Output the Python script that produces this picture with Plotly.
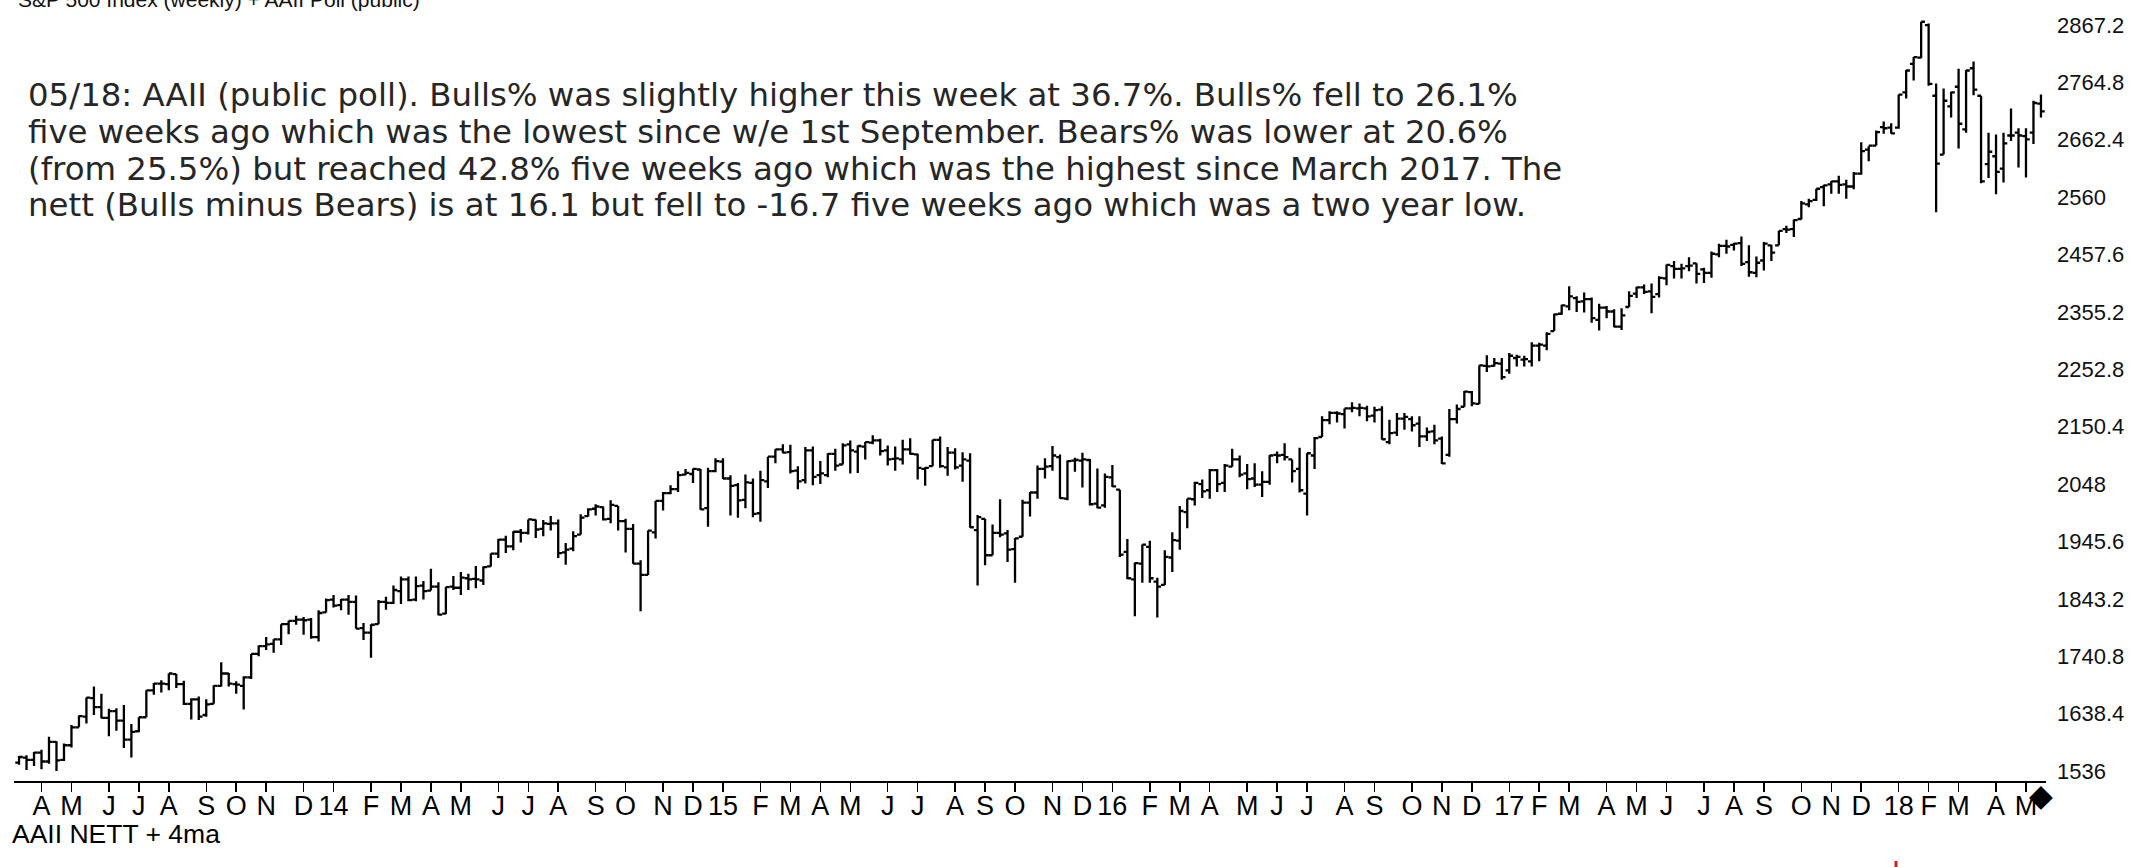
import pandas as pd
import plotly.graph_objects as go

# ---------------- data (weekly S&P 500 bars) ----------------
first_week = "2013-03-11"   # week of the first bar (bars plotted at week start)

opens = [
1551,1560,1556,1569,1553,1588,1556,1582,1614,1633,1666,1650,1631,1643,1626,1592,1607,1632,1680,1692,
1691,1709,1691,1656,1664,1636,1656,1688,1710,1691,1688,1703,1745,1759,1763,1771,1798,1804,1806,1806,
1775,1819,1842,1832,1842,1838,1791,1783,1798,1838,1836,1857,1878,1842,1867,1858,1865,1817,1865,1863,
1880,1879,1876,1901,1924,1949,1937,1963,1961,1984,1968,1977,1978,1926,1933,1958,1991,2004,2007,1986,
2009,1982,1968,1906,1886,1962,2018,2032,2039,2065,2066,2074,2005,2071,2088,2058,2046,2020,2050,1996,
2053,2097,2110,2105,2072,2055,2108,2064,2064,2102,2083,2119,2106,2115,2122,2126,2108,2093,2092,2110,
2101,2075,2080,2127,2078,2104,2081,2090,1966,1986,1921,1961,1960,1932,1954,2015,2033,2075,2080,2096,
2022,2090,2090,2091,2013,2010,2060,2038,1927,1878,1906,1936,1874,1868,1917,1947,1998,2021,2048,2037,
2073,2050,2079,2092,2067,2058,2047,2052,2100,2100,2092,2075,2031,2099,2132,2162,2175,2173,2183,2183,
2183,2170,2181,2123,2140,2165,2164,2156,2133,2142,2129,2100,2164,2186,2212,2191,2259,2259,2263,2251,
2273,2270,2267,2295,2295,2321,2352,2365,2380,2374,2378,2341,2363,2356,2329,2364,2388,2399,2392,2387,
2415,2437,2432,2437,2442,2431,2425,2458,2473,2475,2478,2444,2425,2447,2474,2474,2503,2503,2521,2547,
2555,2578,2583,2588,2583,2579,2602,2645,2652,2685,2684,2684,2747,2798,2809,2867,2741,2636,2722,2757,
2681,2790,2741,2619,2633,2611,2670,2675,2669,2675,2727]

highs = [
1563,1564,1570,1574,1597,1589,1585,1618,1635,1667,1687,1674,1647,1648,1654,1620,1632,1680,1693,1698,
1710,1709,1697,1666,1669,1664,1689,1730,1711,1696,1705,1745,1760,1775,1771,1798,1804,1813,1811,1809,
1823,1844,1850,1843,1850,1849,1800,1798,1841,1847,1867,1883,1883,1883,1875,1897,1873,1865,1884,1891,
1888,1902,1901,1924,1950,1956,1964,1968,1985,1985,1984,1991,1985,1943,1964,1994,2005,2012,2008,2019,
2009,1986,1977,1912,1965,2018,2034,2046,2071,2075,2076,2075,2077,2094,2094,2064,2050,2065,2058,2072,
2097,2110,2119,2118,2080,2114,2115,2089,2103,2111,2121,2126,2117,2123,2135,2129,2117,2115,2127,2130,
2102,2078,2127,2133,2114,2112,2105,2103,1993,1986,1976,2021,1966,1952,2020,2034,2081,2094,2116,2101,
2090,2095,2104,2093,2076,2067,2082,2038,1950,1908,1940,1947,1881,1930,1962,2009,2022,2052,2056,2075,
2075,2084,2111,2099,2084,2085,2071,2100,2106,2121,2092,2113,2103,2132,2169,2178,2178,2183,2194,2192,
2188,2186,2187,2163,2175,2175,2169,2169,2149,2154,2133,2182,2190,2214,2214,2260,2278,2273,2273,2282,
2279,2277,2301,2300,2319,2352,2368,2401,2383,2390,2381,2370,2366,2360,2362,2392,2400,2404,2406,2419,
2440,2446,2441,2453,2442,2434,2463,2477,2484,2478,2490,2474,2454,2480,2475,2500,2509,2520,2553,2557,
2575,2582,2589,2598,2591,2605,2658,2651,2679,2695,2692,2743,2787,2810,2873,2870,2763,2754,2748,2789,
2787,2802,2741,2675,2672,2675,2718,2683,2683,2732,2743]

lows = [
1547,1538,1545,1539,1549,1536,1554,1578,1614,1621,1636,1630,1598,1608,1577,1560,1605,1632,1672,1676,
1680,1684,1654,1628,1627,1633,1656,1687,1687,1674,1646,1700,1741,1752,1747,1761,1780,1797,1779,1772,
1767,1819,1828,1823,1815,1790,1770,1738,1798,1824,1834,1834,1839,1839,1842,1858,1814,1816,1859,1850,
1859,1862,1868,1901,1916,1925,1930,1944,1958,1952,1955,1965,1916,1904,1928,1958,1990,1992,1983,1978,
1965,1926,1906,1821,1886,1951,2001,2030,2034,2064,2050,2002,1972,2069,2057,1992,1988,2005,1989,1981,
2041,2085,2103,2067,2039,2049,2046,2048,2060,2072,2083,2067,2068,2092,2119,2099,2081,2072,2083,2101,
2056,2045,2080,2077,2063,2074,2052,1970,1867,1903,1921,1953,1909,1872,1954,1990,2022,2058,2072,2022,
2019,2070,2042,2010,2005,2006,2043,1918,1878,1812,1872,1872,1810,1868,1891,1931,1969,2010,2023,2022,
2034,2034,2079,2060,2039,2043,2025,2047,2085,2090,2051,2033,1992,2075,2132,2155,2158,2147,2176,2169,
2160,2158,2127,2119,2134,2145,2142,2114,2125,2119,2084,2097,2156,2186,2187,2191,2248,2258,2234,2245,
2258,2258,2258,2267,2287,2321,2350,2358,2355,2354,2336,2322,2344,2328,2323,2364,2380,2387,2353,2381,
2403,2415,2415,2428,2406,2407,2416,2453,2459,2465,2437,2418,2417,2429,2446,2474,2496,2489,2520,2542,
2553,2544,2566,2566,2557,2574,2600,2624,2652,2673,2673,2682,2736,2768,2808,2759,2533,2636,2702,2647,
2675,2742,2585,2594,2565,2586,2660,2613,2595,2655,2702]

closes = [
1561,1556,1569,1553,1588,1555,1582,1614,1634,1667,1650,1631,1643,1626,1592,1606,1632,1680,1692,1692,
1710,1691,1656,1664,1633,1655,1688,1710,1692,1690,1703,1745,1759,1762,1771,1798,1804,1806,1805,1775,
1818,1841,1831,1842,1838,1790,1783,1797,1838,1836,1859,1878,1841,1866,1857,1865,1815,1864,1863,1881,
1878,1878,1900,1924,1949,1937,1963,1961,1985,1967,1978,1978,1925,1931,1955,1988,2003,2008,1985,2011,
1982,1968,1906,1886,1965,2018,2032,2039,2064,2068,2075,2003,2071,2089,2058,2045,2019,2051,1995,2055,
2097,2110,2104,2071,2053,2108,2061,2067,2102,2081,2117,2108,2116,2123,2126,2107,2092,2094,2110,2102,
2077,2077,2127,2080,2104,2078,2092,1971,1989,1921,1961,1958,1931,1951,2015,2033,2075,2079,2099,2023,
2089,2091,2092,2012,2006,2061,2044,1922,1880,1907,1940,1880,1865,1918,1948,2000,2022,2050,2035,2073,
2048,2081,2092,2065,2057,2047,2052,2099,2099,2096,2071,2037,2103,2130,2162,2175,2174,2183,2184,2184,
2169,2180,2128,2139,2165,2168,2153,2133,2141,2126,2085,2164,2182,2213,2192,2260,2258,2264,2239,2277,
2275,2271,2295,2297,2316,2351,2367,2383,2373,2378,2344,2363,2356,2329,2349,2384,2399,2391,2382,2416,
2439,2432,2433,2438,2423,2425,2459,2473,2472,2477,2441,2426,2443,2477,2461,2500,2502,2519,2549,2553,
2575,2581,2588,2582,2579,2602,2642,2652,2676,2683,2674,2743,2786,2810,2873,2762,2620,2732,2747,2691,
2786,2752,2588,2641,2605,2656,2670,2670,2663,2728,2713]

y_ticks = [1536, 1638.4, 1740.8, 1843.2, 1945.6, 2048, 2150.4, 2252.8,
           2355.2, 2457.6, 2560, 2662.4, 2764.8, 2867.2]
month_letters = ["J", "F", "M", "A", "M", "J", "J", "A", "S", "O", "N", "D"]

title_text = "S&P 500 Index (weekly) + AAII Poll (public)"
note_lines = [
    "05/18: AAII (public poll). Bulls% was slightly higher this week at 36.7%. Bulls% fell to 26.1%",
    "five weeks ago which was the lowest since w/e 1st September. Bears% was lower at 20.6%",
    "(from 25.5%) but reached 42.8% five weeks ago which was the highest since March 2017. The",
    "nett (Bulls minus Bears) is at 16.1 but fell to -16.7 five weeks ago which was a two year low.",
]
sub_label = "AAII NETT + 4ma"

# ---------------- build ----------------
weeks = pd.date_range(first_week, periods=len(closes), freq="7D")

tick_vals, tick_text = [], []
for d in weeks:
    fri = d + pd.Timedelta(days=4)
    if fri.day <= 7:
        tick_vals.append(d)
        tick_text.append(f"{fri.year % 100:02d}" if fri.month == 1 else month_letters[fri.month - 1])

W, H = 2156, 867
ML, MR, MT, MB = 14, 110, 5, 86
Y_RANGE = [1518.2, 2902.9]

fig = go.Figure()
fig.add_trace(go.Ohlc(
    x=weeks, open=opens, high=highs, low=lows, close=closes,
    increasing=dict(line=dict(color="black", width=2.3)),
    decreasing=dict(line=dict(color="black", width=2.3)),
    tickwidth=0.5, showlegend=False, hoverinfo="skip",
))

lab_font = "Liberation Sans, Arial, sans-serif"

fig.update_layout(
    width=W, height=H,
    margin=dict(l=ML, r=MR, t=MT, b=MB),
    paper_bgcolor="white", plot_bgcolor="white",
    showlegend=False,
    xaxis=dict(
        type="date",
        range=[weeks[0] - pd.Timedelta(hours=113), weeks[-1] + pd.Timedelta(hours=113)],
        rangeslider=dict(visible=False),
        showgrid=False, zeroline=False,
        showline=True, linecolor="black", linewidth=2,
        ticks="outside", ticklen=9, tickwidth=1.5, tickcolor="black",
        tickmode="array", tickvals=tick_vals, ticktext=tick_text,
        tickfont=dict(family=lab_font, size=27, color="black"),
        ticklabelstandoff=-9,
        fixedrange=True,
    ),
    yaxis=dict(
        side="right", range=Y_RANGE,
        showgrid=False, zeroline=False, showline=False, ticks="",
        tickmode="array", tickvals=y_ticks,
        ticktext=[f"{v:g}" for v in y_ticks],
        tickfont=dict(family=lab_font, size=22, color="#111"),
        ticklabelstandoff=10,
        fixedrange=True,
    ),
)

# ---- text ----
pw = W - ML - MR
ph = H - MT - MB

def px_x(x):
    return (x - ML) / pw

def px_y(y):
    return 1 - (y - MT) / ph

annos = []
annos.append(dict(text=title_text, xref="paper", yref="paper", x=px_x(16), y=px_y(-1),
                  xanchor="left", yanchor="middle", showarrow=False,
                  font=dict(family=lab_font, size=21, color="#111")))
for i, line in enumerate(note_lines):
    annos.append(dict(text=line, xref="paper", yref="paper", x=px_x(26), y=px_y(95 + i * 36.8),
                      xanchor="left", yanchor="middle", showarrow=False,
                      font=dict(family="DejaVu Sans, Verdana, sans-serif", size=32.4, color="#262626")))
annos.append(dict(text=sub_label, xref="paper", yref="paper", x=px_x(10), y=px_y(834),
                  xanchor="left", yanchor="middle", showarrow=False,
                  font=dict(family=lab_font, size=26.5, color="black")))
annos.append(dict(text="◆", xref="x", yref="paper", x=weeks[-1], y=px_y(795),
                  xanchor="center", yanchor="middle", showarrow=False,
                  font=dict(family="DejaVu Sans, sans-serif", size=31, color="black")))
fig.update_layout(annotations=annos)

fig.add_shape(type="line", xref="paper", yref="paper",
              x0=px_x(1896), x1=px_x(1896), y0=px_y(861), y1=px_y(867),
              line=dict(color="#d02020", width=3))

fig.write_html("out.html",
               config={"displayModeBar": False, "staticPlot": True},
               post_script="document.body.style.margin='0px';document.body.style.overflow='hidden';")
